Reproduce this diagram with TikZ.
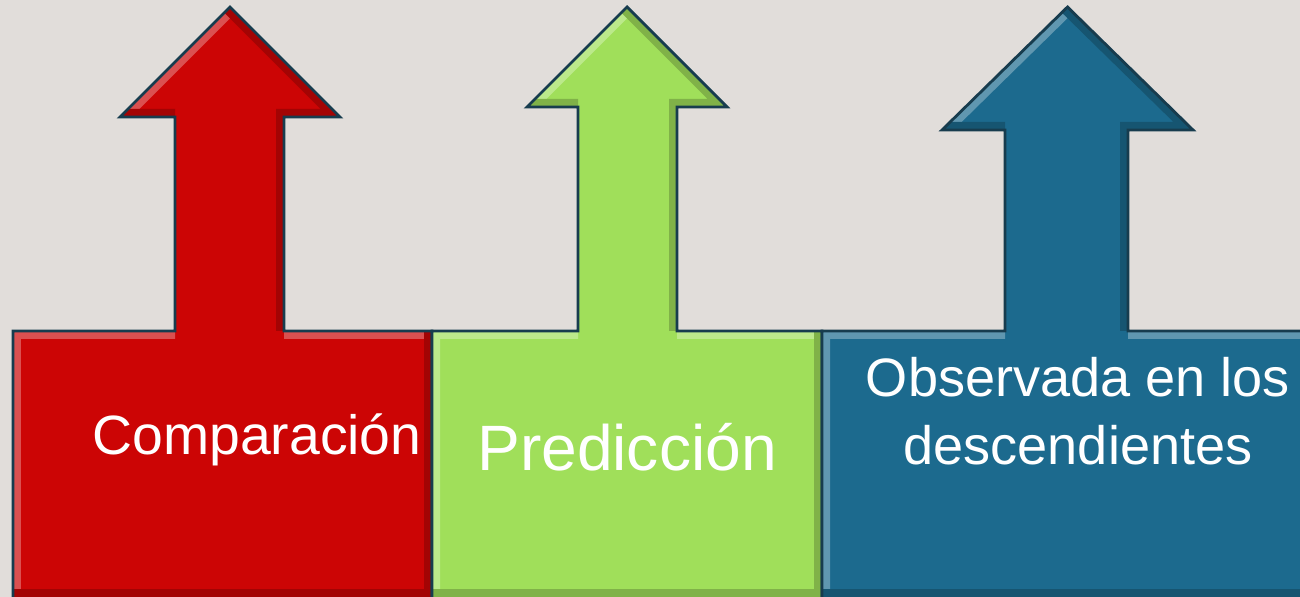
\documentclass[tikz,border=0pt]{standalone}
\usepackage{fontspec}
\setmainfont{Liberation Sans}
\definecolor{paper}{HTML}{E1DDDA}
\definecolor{edgeteal}{HTML}{173C4E}
\definecolor{redfill}{HTML}{CC0505}
\definecolor{greenfill}{HTML}{A0DF5A}
\definecolor{bluefill}{HTML}{1C6A8E}
\tikzset{outline/.style={draw=edgeteal,line width=1.6pt,line join=miter}}
\tikzset{bevel/.style={line width=0.32cm,line cap=square}}
\tikzset{boxtext/.style={text=white,font=\fontsize{31.5}{39}\selectfont,
                         align=center,inner sep=0pt}}

\begin{document}
\begin{tikzpicture}[x=0.02cm,y=-0.02cm]
    \fill[paper] (0,0) rectangle (1300,597);
    \useasboundingbox (0,0) rectangle (1300,597);
    \foreach \ba/\bb/\sa/\sb/\ha/\hb/\hy/\col [count=\i] in
        {13/432/175/284/120/340/117/redfill,
         432/822/578/677/527/727/107/greenfill,
         822/1310/1005/1128/942/1193/130/bluefill}{%
      \def\shape{(\ba,612) -- (\ba,331) -- (\sa,331) -- (\sa,\hy) -- (\ha,\hy)
        -- ({(\ha+\hb)/2},7) -- (\hb,\hy) -- (\sb,\hy) -- (\sb,331)
        -- (\bb,331) -- (\bb,612) -- cycle}
      \fill[\col] \shape;
      \begin{scope}
        \clip \shape;
        \draw[bevel,\col!70!white] (\ba,612) -- (\ba,331) -- (\sa,331)
             (\sb,331) -- (\bb,331) (\ha,\hy) -- ({(\ha+\hb)/2},7);
        \draw[bevel,\col!80!black] ({(\ha+\hb)/2},7) -- (\hb,\hy) -- (\sb,\hy)
             -- (\sb,331) (\ha,\hy) -- (\sa,\hy)
             (\bb,331) -- (\bb,612) (\ba,597) -- (\bb,597);
      \end{scope}
      \draw[outline] \shape;
    }
    % Labels
    \node[boxtext,anchor=base] (comp) at (257,454) {Comparación};
    \node[boxtext,anchor=base,font=\fontsize{36.5}{43}\selectfont] (pred)
         at (627,470) {Predicción};
    \node[boxtext,font=\fontsize{30.8}{39}\selectfont] (obs)
         at (1078,411) {Observada en los\\descendientes};
\end{tikzpicture}
\end{document}
